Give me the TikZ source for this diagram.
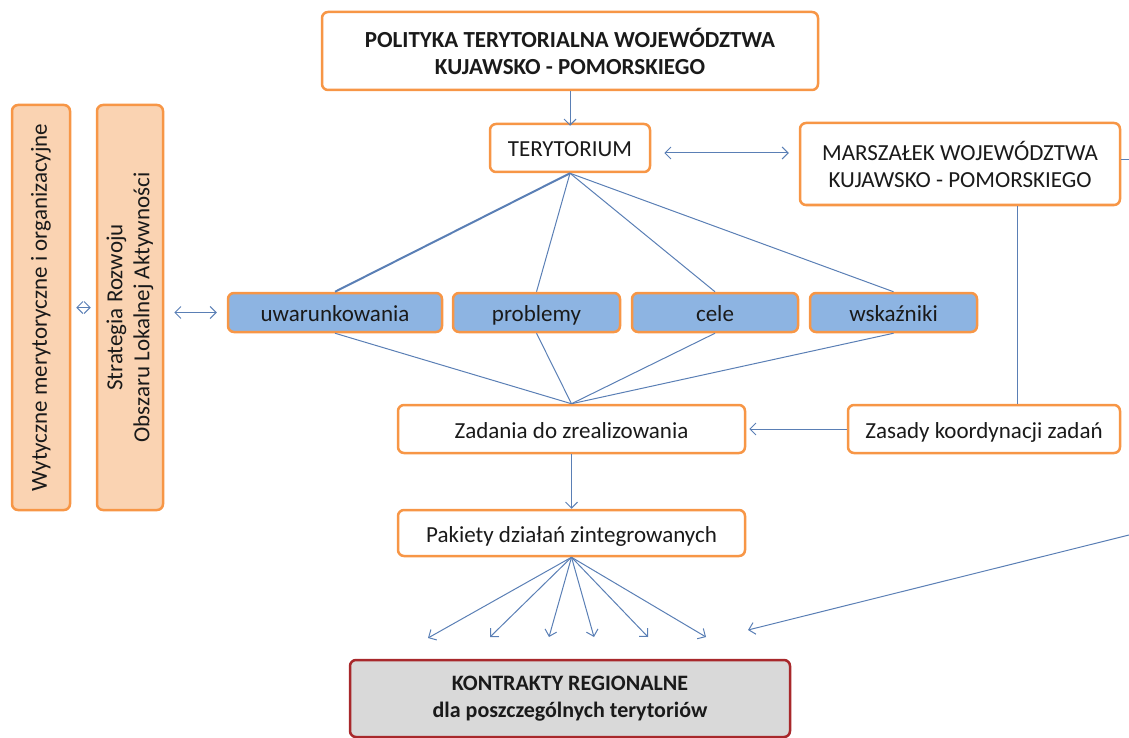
\documentclass[tikz,border=0pt]{standalone}
\usepackage{fontspec}
\setmainfont{Carlito}
\usetikzlibrary{arrows.meta}
\definecolor{orangeC}{HTML}{F79646}
\definecolor{peachC}{HTML}{FAD3B2}
\definecolor{blueC}{HTML}{8DB4E2}
\definecolor{lineC}{HTML}{5A7FB5}
\definecolor{grayC}{HTML}{D9D9D9}
\definecolor{redC}{HTML}{A8282B}
\definecolor{txtC}{HTML}{1A1A1A}
\tikzset{
  obox/.style={draw=orangeC, line width=2.5pt, rounded corners=6pt, fill=white,
    inner sep=0pt, align=center, text=txtC, font=\fontsize{23}{27}\selectfont},
  one/.style={text height=22pt, text depth=4pt},
  bbox/.style={obox, one, fill=blueC, minimum height=39pt},
  pbox/.style={obox, fill=peachC, rotate=90, minimum width=405pt},
  conn/.style={draw=lineC, line width=1pt},
  arr/.style={conn, -{Straight Barb[length=6pt,width=12pt]}},
  arrboth/.style={conn, {Straight Barb[length=6pt,width=12pt]}-{Straight Barb[length=6pt,width=12pt]}},
}
\begin{document}
\begin{tikzpicture}[x=1pt,y=-1pt]
\useasboundingbox (0,0) rectangle (1129,738);
% boxes
\node[obox, minimum width=496pt, minimum height=78pt, font=\fontsize{23}{27}\selectfont\bfseries] (pol) at (570,51) {POLITYKA TERYTORIALNA WOJEWÓDZTWA\\KUJAWSKO - POMORSKIEGO};
\node[obox, one, minimum width=160pt, minimum height=48pt] (ter) at (570,148) {TERYTORIUM};
\node[obox, minimum width=320pt, minimum height=82pt] (mar) at (960,164) {MARSZAŁEK WOJEWÓDZTWA\\KUJAWSKO - POMORSKIEGO};
\node[bbox, minimum width=214pt] (uwa) at (335,312.5) {uwarunkowania};
\node[bbox, minimum width=167pt] (pro) at (536.5,312.5) {problemy};
\node[bbox, minimum width=166pt] (cel) at (715,312.5) {cele};
\node[bbox, minimum width=167pt] (wsk) at (893.5,312.5) {wskaźniki};
\node[obox, one, minimum width=347pt, minimum height=48pt] (zad) at (571.5,429) {Zadania do zrealizowania};
\node[obox, one, minimum width=272pt, minimum height=48pt] (zas) at (984,429) {Zasady koordynacji zadań};
\node[obox, one, minimum width=347pt, minimum height=46pt] (pak) at (571.5,533) {Pakiety działań zintegrowanych};
\node[obox, draw=redC, fill=grayC, minimum width=440pt, minimum height=77pt, font=\fontsize{22}{27}\selectfont\bfseries] (kon) at (570,698.5) {KONTRAKTY REGIONALNE\\dla poszczególnych terytoriów};
\node[pbox, minimum height=58pt] (wyt) at (41,307.5) {Wytyczne merytoryczne i organizacyjne};
\node[pbox, minimum height=66pt] (str) at (130,307.5) {Strategia Rozwoju\\Obszaru Lokalnej Aktywności};
% free ends
\coordinate (redge) at (1129,160);
\coordinate (rin) at (1129,535);
\coordinate (tin) at (748,630);
\coordinate (f1) at (428,638);
\coordinate (f2) at (490,637);
\coordinate (f3) at (549,637);
\coordinate (f4) at (594,637);
\coordinate (f5) at (648,637);
\coordinate (f6) at (706,637);
\coordinate (tm) at ([yshift=-5pt]ter.east);
\coordinate (su) at (uwa.west -| str.south);
% connectors
\draw[arr] (pol.south) -- ([yshift=-3pt]ter.north);
\draw[arrboth, shorten <=13pt, shorten >=10pt] (tm) -- (tm -| mar.west);
\draw[conn] (mar.east |- redge) -- (redge);
\draw[conn] ([xshift=57pt]mar.south) -- ([xshift=33pt]zas.north);
\draw[arr] (zas.west) -- ([xshift=3pt]zad.east);
\draw[conn, line width=2pt] (ter.south) -- (uwa.north);
\draw[conn] (ter.south) -- (pro.north);
\draw[conn] (ter.south) -- (cel.north);
\draw[conn] (ter.south) -- (wsk.north);
\draw[conn] (uwa.south) -- (zad.north);
\draw[conn] (pro.south) -- (zad.north);
\draw[conn] (cel.south) -- (zad.north);
\draw[conn] (wsk.south) -- (zad.north);
\draw[arr] (zad.south) -- (pak.north);
\foreach \f in {f1,f2,f3,f4,f5,f6} \draw[arr] (pak.south) -- (\f);
\draw[arr] (rin) -- (tin);
\draw[arrboth] ([xshift=5pt]wyt.south) -- ([xshift=-5pt]str.north);
\draw[arrboth, shorten <=10pt, shorten >=10pt] (su) -- (uwa.west);
\end{tikzpicture}
\end{document}
